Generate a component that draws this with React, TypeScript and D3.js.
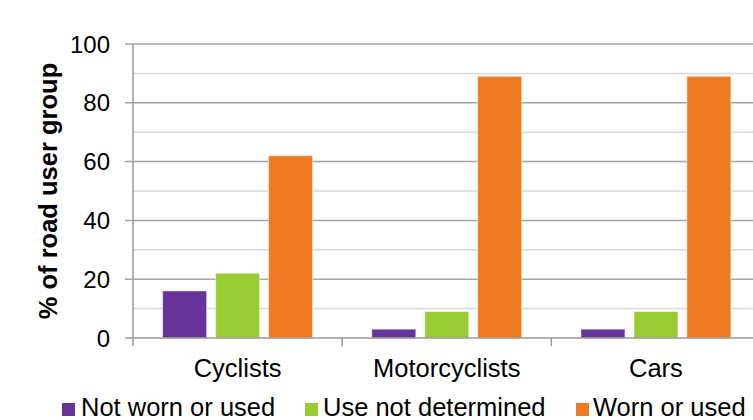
import React from "react";
import * as d3 from "d3";

const categories = ["Cyclists", "Motorcyclists", "Cars"];
const seriesNames = ["Not worn or used", "Use not determined", "Worn or used"];
const notWorn = [16, 3, 3];
const notDetermined = [22, 9, 9];
const worn = [62, 89, 89];
const seriesValues = [notWorn, notDetermined, worn];
const colors = ["#663399", "#99CC33", "#EE7A22"];
const yMajorTicks = [0, 20, 40, 60, 80, 100];
const yMinorTicks = [10, 30, 50, 70, 90];
const yTitle = "% of road user group";

export default function App() {
  const W = 753;
  const H = 420;
  const left = 133;
  const right = 760.5;
  const top = 44;
  const bottom = 338;
  const font = "'Liberation Sans', Arial, sans-serif";

  const x = d3.scaleBand<string>().domain(categories).range([left, right]).paddingInner(0).paddingOuter(0);
  const x1 = d3
    .scaleBand<number>()
    .domain([0, 1, 2])
    .range([0, x.bandwidth()])
    .paddingInner(0.17)
    .paddingOuter(0.56);
  const y = d3.scaleLinear().domain([0, 100]).range([bottom, top]);

  const legendX = [62, 305, 576];
  const legendTextX = [81, 323, 593];

  return (
    <svg width={W} height={H} style={{ position: "absolute", left: 0, top: 0, background: "#fff" }}>
      <rect x={0} y={0} width={W} height={H} fill="#fff" />
      {yMinorTicks.map((t) => (
        <line key={"mi" + t} x1={left} x2={W} y1={y(t)} y2={y(t)} stroke="#d9d9d9" strokeWidth={1.5} />
      ))}
      {yMajorTicks.filter((t) => t > 0).map((t) => (
        <line key={"ma" + t} x1={left - 8} x2={W} y1={y(t)} y2={y(t)} stroke="#a6a6a6" strokeWidth={1.5} />
      ))}
      {categories.map((c, ci) =>
        seriesValues.map((vals, si) => (
          <rect
            key={c + si}
            x={(x(c) as number) + (x1(si) as number)}
            y={y(vals[ci])}
            width={x1.bandwidth()}
            height={bottom - y(vals[ci])}
            fill={colors[si]}
            stroke="#ffffff"
            strokeOpacity={0.45}
            strokeWidth={1}
          />
        ))
      )}
      {/* y axis */}
      <line x1={left} x2={left} y1={top} y2={bottom + 8} stroke="#999" strokeWidth={1.5} />
      <line x1={left - 8} x2={left} y1={bottom} y2={bottom} stroke="#999" strokeWidth={1.5} />
      {/* x axis */}
      <line x1={left} x2={W} y1={bottom} y2={bottom} stroke="#999" strokeWidth={1.5} />
      {categories.slice(1).map((c) => (
        <line key={"xt" + c} x1={x(c) as number} x2={x(c) as number} y1={bottom} y2={bottom + 8} stroke="#999" strokeWidth={1.5} />
      ))}
      {yMajorTicks.map((t) => (
        <text key={"yl" + t} x={110} y={y(t)} dy="0.36em" textAnchor="end" fontFamily={font} fontSize={24} fill="#000">
          {t}
        </text>
      ))}
      {categories.map((c) => (
        <text
          key={"xl" + c}
          x={(x(c) as number) + x.bandwidth() / 2}
          y={377}
          textAnchor="middle"
          fontFamily={font}
          fontSize={25.5}
          fill="#000"
        >
          {c}
        </text>
      ))}
      <text
        transform={`translate(57,${(top + bottom) / 2}) rotate(-90)`}
        textAnchor="middle"
        fontFamily={font}
        fontSize={25.5}
        fontWeight="bold"
        fill="#000"
      >
        {yTitle}
      </text>
      {seriesNames.map((s, i) => (
        <g key={"lg" + s}>
          <rect x={legendX[i]} y={403} width={13} height={13} fill={colors[i]} />
          <text x={legendTextX[i]} y={416} fontFamily={font} fontSize={25.5} fill="#000">
            {s}
          </text>
        </g>
      ))}
    </svg>
  );
}
